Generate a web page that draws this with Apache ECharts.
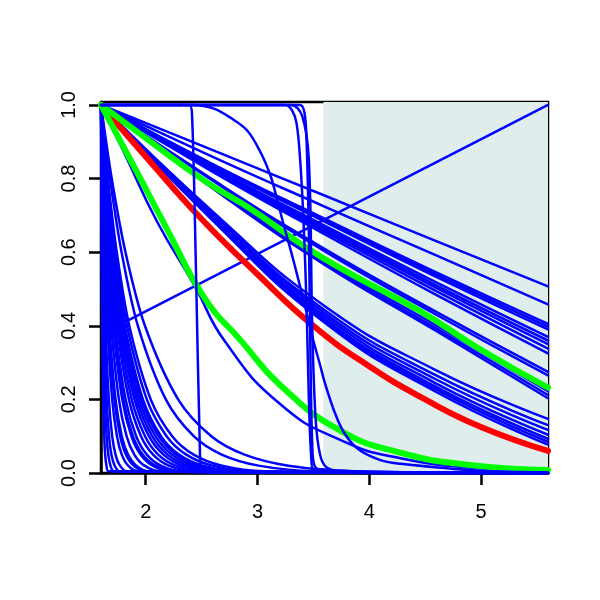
<!DOCTYPE html>
<html>
<head>
<meta charset="utf-8">
<script src="https://cdn.jsdelivr.net/npm/echarts@6/dist/echarts.min.js"></script>
<style>html,body{margin:0;padding:0;background:#fff;}#c{width:600px;height:600px;}</style>
</head>
<body>
<div id="c"></div>
<script>
// ---- data ----
const xTicks = [2, 3, 4, 5];
const yTicks = [0, 0.2, 0.4, 0.6, 0.8, 1.0];
const xRange = [1.6, 5.6];
const yRange = [0, 1.008];
const shadeRange = [3.59, 5.6];

// steep blue curves: x position where each curve reaches the given level
const steepLevels = [1, 0.8, 0.6, 0.4, 0.2, 0.1, 0.05, 0.02, 0.005, 0];
const steepCurvesX = [
  [1.6,1.603,1.606,1.611,1.62,1.629,1.637,1.649,1.666,5.6],
  [1.6,1.605,1.611,1.62,1.635,1.65,1.665,1.685,1.715,5.6],
  [1.6,1.607,1.616,1.629,1.65,1.672,1.693,1.722,1.765,5.6],
  [1.6,1.61,1.622,1.64,1.67,1.70,1.73,1.77,1.83,5.6],
  [1.6,1.614,1.632,1.657,1.70,1.743,1.786,1.843,1.929,5.6],
  [1.6,1.617,1.638,1.668,1.72,1.772,1.823,1.892,1.995,5.6],
  [1.6,1.618,1.641,1.674,1.73,1.786,1.842,1.916,2.028,5.6],
  [1.6,1.622,1.651,1.691,1.76,1.829,1.898,1.989,2.127,5.6],
  [1.6,1.626,1.660,1.708,1.79,1.872,1.954,2.062,2.226,5.6],
  [1.6,1.628,1.663,1.714,1.80,1.886,1.972,2.086,2.259,5.6],
  [1.6,1.631,1.670,1.725,1.82,1.915,2.01,2.135,2.324,5.6],
  [1.6,1.635,1.679,1.742,1.85,1.958,2.066,2.208,2.423,5.6],
  [1.6,1.638,1.687,1.757,1.875,1.994,2.112,2.269,2.506,5.6],
  [1.6,1.642,1.695,1.771,1.90,2.029,2.159,2.329,2.588,5.6],
  [1.6,1.645,1.701,1.782,1.92,2.058,2.196,2.378,2.654,5.6],
  [1.6,1.647,1.708,1.794,1.94,2.087,2.233,2.427,2.72,5.6],
  [1.6,1.65,1.714,1.805,1.96,2.115,2.27,2.475,2.785,5.6],
  [1.6,1.652,1.719,1.813,1.975,2.137,2.298,2.512,2.835,5.6],
  [1.6,1.657,1.73,1.833,2.01,2.187,2.363,2.597,2.95,5.6],
  [1.6,1.662,1.741,1.853,2.045,2.237,2.429,2.682,3.065,5.6],
  [1.6,1.681,1.784,1.93,2.18,2.43,2.68,3.01,3.51,5.6],
  [1.6,1.696,1.819,1.993,2.29,2.587,2.885,3.277,3.872,5.6]
];

// slowly decaying blue curves, values at slowX
const slowX = [1.6, 2.6, 3.6, 4.6, 5.6];
const slowCurvesY = [
  [1,0.877,0.754,0.630,0.507],
  [1,0.859,0.724,0.591,0.458],
  [1,0.839,0.691,0.545,0.405],
  [1,0.837,0.687,0.539,0.398],
  [1,0.835,0.683,0.533,0.390],
  [1,0.830,0.672,0.518,0.370],
  [1,0.827,0.667,0.510,0.360],
  [1,0.825,0.662,0.503,0.350],
  [1,0.821,0.656,0.494,0.338],
  [1,0.818,0.649,0.484,0.325],
  [1,0.797,0.609,0.438,0.275],
  [1,0.794,0.603,0.430,0.265],
  [1,0.778,0.576,0.401,0.222],
  [1,0.775,0.571,0.393,0.212],
  [1,0.773,0.566,0.386,0.203],
  [1,0.710,0.454,0.279,0.147],
  [1,0.704,0.443,0.265,0.130],
  [1,0.700,0.435,0.254,0.117],
  [1,0.695,0.427,0.243,0.104],
  [1,0.692,0.420,0.234,0.093],
  [1,0.689,0.414,0.227,0.085],
  [1,0.686,0.409,0.220,0.077]
];

// medium blue curve just under the lower green one
const midX = [1.6, 1.8, 2.1, 2.44, 2.71, 3.2, 3.74, 4.28, 5.0, 5.6];
const midY = [1, 0.875, 0.684, 0.507, 0.357, 0.188, 0.09, 0.04, 0.012, 0.004];

// rising straight blue line
const riseX = [1.62, 5.6];
const riseY = [0.38, 1.0];

// plateau-then-drop blue curves
const dropCurves = [
  { x: [1.6, 2.39, 2.415, 2.45, 2.485, 2.5, 2.6, 5.6],
    y: [1, 1, 0.97, 0.55, 0.06, 0.01, 0.002, 0] },
  { x: [1.6, 2.43, 2.61, 2.76, 2.91, 3.03, 3.12, 3.17, 3.23, 3.32, 3.42, 3.5, 3.56, 3.6, 3.68, 3.77, 3.9, 4.1, 4.28, 5.0, 5.6],
    y: [1, 1, 0.99, 0.965, 0.93, 0.87, 0.805, 0.75, 0.68, 0.58, 0.46, 0.36, 0.294, 0.248, 0.174, 0.112, 0.065, 0.035, 0.025, 0.006, 0.002] },
  { x: [1.6, 3.25, 3.31, 3.35, 3.38, 3.41, 3.44, 3.46, 3.48, 3.5, 5.6],
    y: [1, 1, 0.985, 0.95, 0.86, 0.7, 0.45, 0.2, 0.05, 0.01, 0] },
  { x: [1.6, 3.38, 3.42, 3.44, 3.46, 3.475, 3.49, 3.51, 3.6, 5.6],
    y: [1, 1, 0.98, 0.9, 0.65, 0.3, 0.08, 0.02, 0.004, 0] },
  { x: [1.6, 3.3, 3.4, 3.46, 3.49, 3.52, 3.56, 3.62, 3.8, 5.6],
    y: [1, 1, 0.97, 0.85, 0.4, 0.15, 0.05, 0.015, 0.003, 0] }
];

const redX = [1.6, 2.0, 2.5, 3.0, 3.5, 4.0, 4.5, 5.0, 5.6];
const redY = [1, 0.86, 0.69, 0.54, 0.40, 0.29, 0.20, 0.125, 0.06];

const greenUpX = [1.6, 2.0, 2.53, 2.94, 3.45, 3.83, 4.455, 5.0, 5.6];
const greenUpY = [1, 0.91, 0.793, 0.717, 0.61, 0.542, 0.44, 0.335, 0.232];

const greenLowX = [1.6, 1.9, 2.17, 2.53, 2.86, 3.2, 3.73, 4.28, 4.9, 5.6];
const greenLowY = [1, 0.83, 0.675, 0.474, 0.357, 0.24, 0.117, 0.055, 0.022, 0.008];

// ---- build chart ----
const BLUE = '#0000ff';
const zip = (xs, ys) => xs.map((x, i) => [x, ys[i]]);
const series = [];

series.push({
  type: 'line', data: [], silent: true, z: 1,
  markArea: {
    silent: true,
    itemStyle: { color: '#e0eded' },
    data: [[{ xAxis: shadeRange[0], yAxis: yRange[0] }, { xAxis: shadeRange[1], yAxis: yRange[1] }]]
  }
});

function addLine(data, color, width, smooth, z) {
  series.push({
    type: 'line', data, showSymbol: false, symbol: 'none', silent: true,
    smooth, z: z || 2,
    lineStyle: { color, width, cap: 'round', join: 'round' }
  });
}

steepCurvesX.forEach(xs => addLine(zip(xs, steepLevels), BLUE, 2.5, 0.3));
slowCurvesY.forEach(ys => addLine(zip(slowX, ys), BLUE, 2.5, 0.5));
addLine(zip(midX, midY), BLUE, 2.5, 0.5);
addLine(zip(riseX, riseY), BLUE, 2.5, false);
addLine(zip(redX, redY), '#ff0000', 6, 0.5, 3);
addLine(zip(greenUpX, greenUpY), '#00ff00', 6, 0.5, 3);
addLine(zip(greenLowX, greenLowY), '#00ff00', 6, 0.5, 3);
dropCurves.forEach(c => addLine(zip(c.x, c.y), BLUE, 2.5, 0.35, 4));

const FONT = "'Liberation Sans', Arial, Helvetica, sans-serif";

const chart = echarts.init(document.getElementById('c'), null, { renderer: 'canvas' });
chart.setOption({
  animation: false,
  backgroundColor: '#ffffff',
  grid: { left: 101, top: 102, width: 447, height: 371, show: true, borderColor: '#000', borderWidth: 2.5, backgroundColor: 'transparent' },
  xAxis: {
    type: 'value', min: xRange[0], max: xRange[1],
    axisLine: { show: true, onZero: false, lineStyle: { color: '#000', width: 2.5 } },
    axisTick: { show: true, length: 12, lineStyle: { color: '#000', width: 2.5 }, customValues: xTicks },
    axisLabel: { show: true, color: '#000', fontSize: 20, fontFamily: FONT, margin: 29, customValues: xTicks, formatter: v => String(v) },
    splitLine: { show: false }
  },
  yAxis: {
    type: 'value', min: yRange[0], max: yRange[1],
    axisLine: { show: true, onZero: false, lineStyle: { color: '#000', width: 2.5 } },
    axisTick: { show: true, length: 12, lineStyle: { color: '#000', width: 2.5 }, customValues: yTicks },
    axisLabel: { show: true, color: '#000', fontSize: 20, fontFamily: FONT, rotate: 90, margin: 22, customValues: yTicks, formatter: v => v.toFixed(1) },
    splitLine: { show: false }
  },
  series
});
</script>
</body>
</html>
